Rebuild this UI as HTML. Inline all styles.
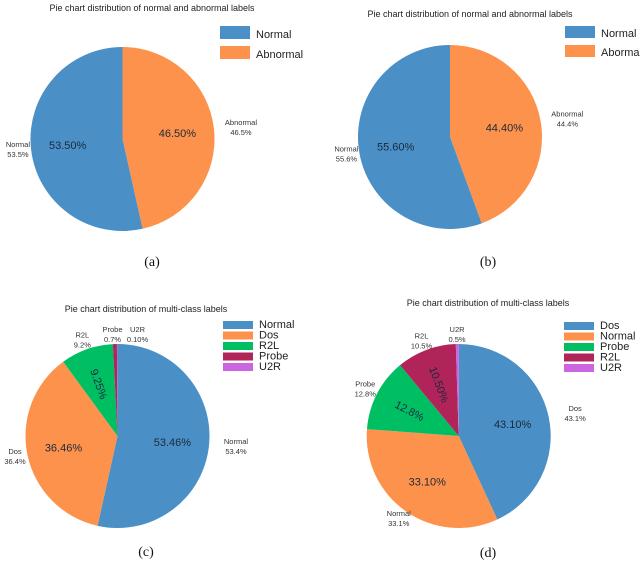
<!DOCTYPE html>
<html><head><meta charset="utf-8"><style>
html,body{margin:0;padding:0;background:#fff;}
svg{display:block;font-family:"Liberation Sans",sans-serif;}
</style></head><body>
<svg id="fig" width="640" height="563" viewBox="0 0 640 563" xmlns="http://www.w3.org/2000/svg"></svg>
<script>
const colors = {Normal:"#4a8fc6",Abnormal:"#fd924c",Dos:"#fd924c",R2L:"#00bf63",Probe:"#b0245a",U2R:"#cc66e0"};
const colorsD = {Dos:"#4a8fc6",Normal:"#fd924c",Probe:"#00bf63",R2L:"#b0245a",U2R:"#cc66e0"};
// panel a
const catsA = ["Abnormal","Normal"];
const valsA = [46.5,53.5];
const pctA = ["46.50%","53.50%"];
const outA = ["46.5%","53.5%"];
// panel b
const catsB = ["Abnormal","Normal"];
const valsB = [44.4,55.6];
const pctB = ["44.40%","55.60%"];
const outB = ["44.4%","55.6%"];
const legendB = ["Normal","Abormal"];
// panel c
const catsC = ["Normal","Dos","R2L","Probe","U2R"];
const valsC = [53.46,36.46,9.25,0.7,0.1];
const pctC = ["53.46%","36.46%","9.25%","",""];
const outC = ["53.4%","36.4%","9.2%","0.7%","0.10%"];
// panel d
const catsD = ["Dos","Normal","Probe","R2L","U2R"];
const valsD = [43.1,33.1,12.8,10.5,0.5];
const pctD = ["43.10%","33.10%","12.8%","10.50%",""];
const outD = ["43.1%","33.1%","12.8%","10.5%","0.5%"];

const NS="http://www.w3.org/2000/svg";
const svg=document.getElementById('fig');
function mk(tag,attrs,parent){const e=document.createElementNS(NS,tag);for(const k in attrs)e.setAttribute(k,attrs[k]);(parent||svg).appendChild(e);return e;}
function txt(x,y,s,size,anchor,parent,extra){const t=mk('text',Object.assign({x:x,y:y,'font-size':size,'text-anchor':anchor||'middle',fill:'#222'},extra||{}),parent);t.textContent=s;return t;}

function pie(id,cx,cy,r,cats,vals,pct,out,cmap,legendCats,legendText,lx,ly,lstep,lh,lfs,title,tx,ty,cap,capx,capy){
  const g=mk('g',{});
  
  
  const total=vals.reduce((a,b)=>a+b,0);
  const smallIdx=vals.map((v,i)=>v/total<0.02?i:-1).filter(i=>i>=0);
  let acc=0;
  const pt=(f,rr)=>{const a=f*2*Math.PI;return [cx+rr*Math.sin(a),cy-rr*Math.cos(a)];};
  cats.forEach((c,i)=>{
    const f0=acc/total;acc+=vals[i];const f1=acc/total;
    const [x0,y0]=pt(f0,r),[x1,y1]=pt(f1,r);
    const large=(f1-f0)>0.5?1:0;
    const p=mk('path',{d:`M${cx},${cy}L${x0},${y0}A${r},${r} 0 ${large} 1 ${x1},${y1}Z`,fill:cmap[c]},g);
    
    
    const fm=(f0+f1)/2;
    if(pct[i]){
      const [ix,iy]=pt(fm,r*0.6);
      const small=(f1-f0)<0.15;
      let ang=0;
      if(small){ang=fm*360-90; if(ang<-90)ang+=180; if(ang>90)ang-=180;}
      const t=txt(ix,iy+4,pct[i],11,'middle',g,{fill:'#1a2a3a',transform:`rotate(${ang} ${ix} ${iy})`});
      
      
    }
    let [ox,oy]=pt(fm,r*1.1);
    const sx=Math.sin(fm*2*Math.PI);
    ox+= sx>0 ? 18*sx : 4*sx;
    ox=Math.max(ox,15);
    if(smallIdx.length>=2 && smallIdx.includes(i)){
      const after=smallIdx.filter(k=>k>i).length;
      ox=cx-after*25+20;
    }
    const t1=txt(ox,oy-3,c,7.5,'middle',g,{fill:'#333'});
    
    
    const t2=txt(ox,oy+7,out[i],7.5,'middle',g,{fill:'#333'});
    
    
  });
  legendCats.forEach((c,i)=>{
    const y=ly+i*lstep;
    const rc=mk('rect',{x:lx,y:y,width:30,height:lh,fill:cmap[c]},g);
    
    
    const t=txt(lx+36,y+lh-1,legendText[i],lfs,'start',g,{fill:'#222'});
    
    
  });
  const tt=txt(tx,ty,title,9,'middle',g,{fill:'#222'});
  
  
  const cp=txt(capx,capy,cap,14,'middle',g,{fill:'#111','font-family':'"Liberation Serif",serif'});
  
  
}
pie('a',122.5,139,92,catsA,valsA,pctA,outA,colors,["Normal","Abnormal"],["Normal","Abnormal"],220,26,20,13,11,
  "Pie chart distribution of normal and abnormal labels",152,11,"(a)",152,266);
pie('b',450,137,92,catsB,valsB,pctB,outB,colors,["Normal","Abnormal"],legendB,565,26,19,12,11,
  "Pie chart distribution of normal and abnormal labels",470,17,"(b)",488,266);
pie('c',117.5,436,92,catsC,valsC,pctC,outC,colors,["Normal","Dos","R2L","Probe","U2R"],["Normal","Dos","R2L","Probe","U2R"],223,321,10.5,8,11,
  "Pie chart distribution of  multi-class  labels",146,312,"(c)",146,556);
pie('d',458.7,436,92,catsD,valsD,pctD,outD,colorsD,["Dos","Normal","Probe","R2L","U2R"],["Dos","Normal","Probe","R2L","U2R"],564,322,10.5,8,11,
  "Pie chart distribution of  multi-class  labels",488,306,"(d)",488,557);
</script>
</body></html>
